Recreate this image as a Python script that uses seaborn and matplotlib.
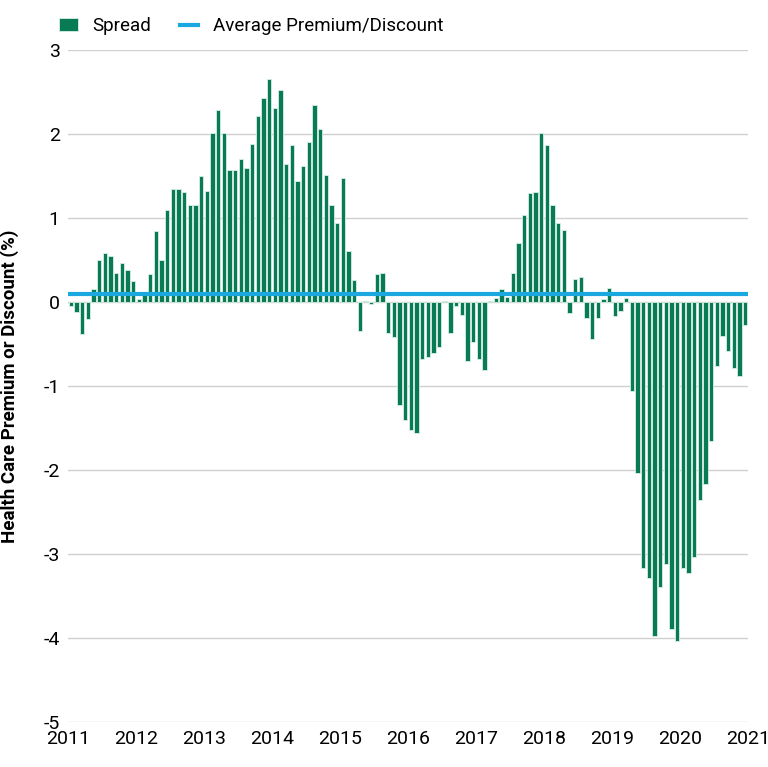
import matplotlib
matplotlib.use("Agg")
import matplotlib.pyplot as plt
import seaborn as sns
import numpy as np
import pandas as pd

plt.rcParams["font.family"] = "Roboto"

spread_2011 = [-0.05, -0.12, -0.38, -0.2, 0.15, 0.5, 0.58, 0.55, 0.35, 0.47, 0.38, 0.25]
spread_2012 = [0.03, 0.12, 0.33, 0.84, 0.5, 1.1, 1.34, 1.35, 1.31, 1.16, 1.16, 1.5]
spread_2013 = [1.32, 2.01, 2.28, 2.01, 1.57, 1.57, 1.7, 1.6, 1.88, 2.21, 2.43, 2.66]
spread_2014 = [2.31, 2.52, 1.64, 1.87, 1.44, 1.62, 1.9, 2.35, 2.06, 1.51, 1.16, 0.94]
spread_2015 = [1.48, 0.61, 0.26, -0.34, 0.01, -0.02, 0.33, 0.35, -0.37, -0.42, -1.23, -1.4]
spread_2016 = [-1.52, -1.56, -0.68, -0.65, -0.61, -0.53, 0.01, -0.37, -0.05, -0.15, -0.7, -0.48]
spread_2017 = [-0.68, -0.81, 0.01, 0.05, 0.15, 0.06, 0.35, 0.7, 1.04, 1.3, 1.31, 2.01]
spread_2018 = [1.87, 1.16, 0.94, 0.86, -0.13, 0.27, 0.3, -0.19, -0.44, -0.19, 0.04, 0.17]
spread_2019 = [-0.17, -0.11, 0.05, -1.06, -2.03, -3.17, -3.28, -3.98, -3.39, -3.12, -3.89, -4.04]
spread_2020 = [-3.17, -3.23, -3.03, -2.36, -2.17, -1.65, -0.76, -0.41, -0.58, -0.78, -0.88, -0.27]
average_premium = 0.1
year_ticks = list(range(2011, 2022))

spread = (spread_2011 + spread_2012 + spread_2013 + spread_2014 + spread_2015
          + spread_2016 + spread_2017 + spread_2018 + spread_2019 + spread_2020)
n = len(spread)
dates = 2011 + (np.arange(n) + 0.5) / 12.0
df = pd.DataFrame({"date": dates, "spread": spread})

fig = plt.figure(figsize=(7.68, 7.67), dpi=100)
ax = fig.add_axes([68/768, 45/767, 680/768, 672/767])

for y in range(-5, 4):
    ax.axhline(y, color="#d0d0d0", lw=1, zorder=0)

sns.barplot(data=df, x="date", y="spread", native_scale=True, color="#087a54",
            saturation=1, width=0.78, edgecolor="#d8eee4", linewidth=0.6,
            ax=ax, zorder=2, label="Spread")
ax.axhline(average_premium, color="#1ba7df", lw=3, zorder=3,
           label="Average Premium/Discount")

ax.set_xlim(2011, 2021)
ax.set_ylim(-5, 3)
ax.set_xticks(year_ticks)
ax.set_xticklabels([str(y) for y in year_ticks], fontsize=14)
ax.set_yticks(range(-5, 4))
ax.set_yticklabels([str(y) for y in range(-5, 4)], fontsize=14)
ax.tick_params(length=0, pad=6)
ax.set_xlabel("")
ax.set_ylabel("Health Care Premium or Discount (%)", fontsize=13.5, fontweight="bold")
ax.yaxis.set_label_coords(-0.072, 0.5)
for s in ax.spines.values():
    s.set_visible(False)

handles, labels = ax.get_legend_handles_labels()
order = [labels.index("Spread"), labels.index("Average Premium/Discount")]
ax.legend([handles[i] for i in order], [labels[i] for i in order],
          loc="lower left", bbox_to_anchor=(-0.03, 1.005), ncol=2, frameon=False,
          fontsize=13.5, handlelength=1.0, columnspacing=1.5, borderaxespad=0.2)

fig.savefig("out.png", dpi=100)
